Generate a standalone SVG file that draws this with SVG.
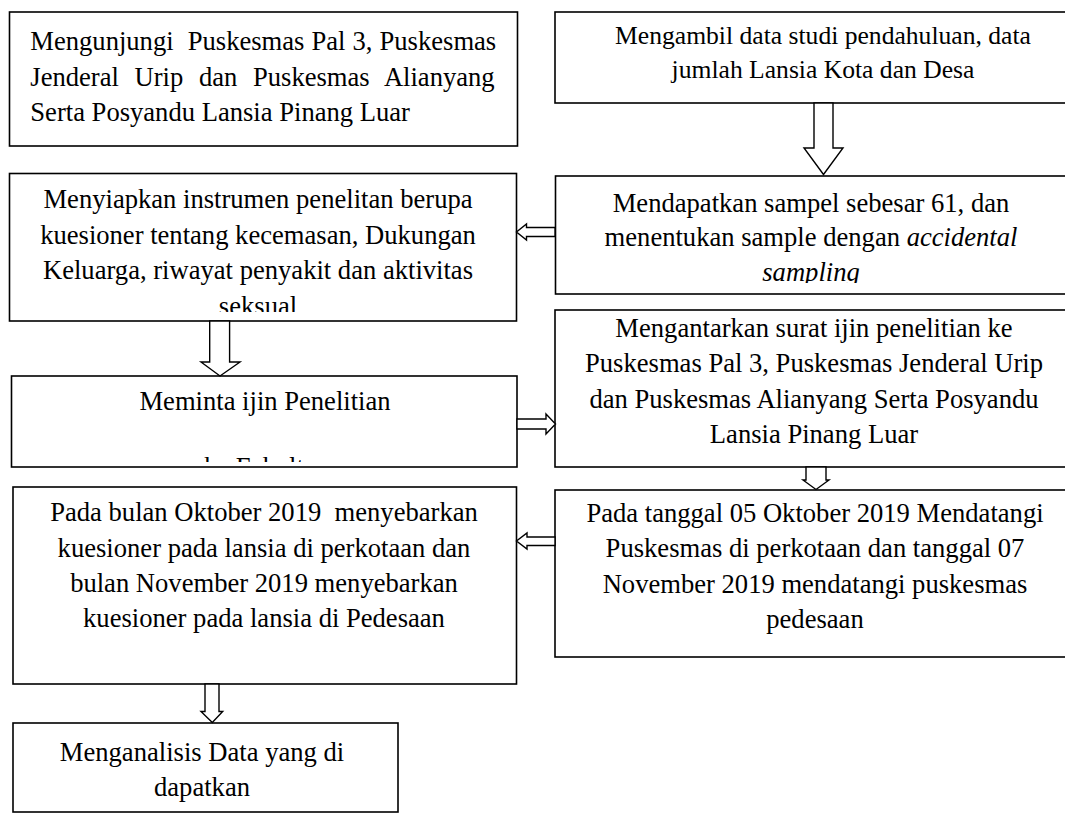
<svg xmlns="http://www.w3.org/2000/svg" width="1065" height="816" viewBox="0 0 1065 816">
<style>
.box{fill:#fff;stroke:#000;stroke-width:1.6}
.t{font-family:"Liberation Serif","Times New Roman",serif;font-size:26.6px;fill:#000}
.s{font-size:25.6px}
.c{text-anchor:middle}
.arr{fill:#fff;stroke:#000;stroke-width:1.4;stroke-linejoin:miter}
</style>
<defs>
<clipPath id="clip3"><rect x="556" y="177" width="520" height="106"/></clipPath>
<clipPath id="clip4"><rect x="10" y="174" width="506" height="138"/></clipPath>
<clipPath id="clip5"><rect x="12" y="377" width="504" height="85"/></clipPath>
</defs>
<rect width="1065" height="816" fill="#fff"/>

<g id="node1">
<rect class="box" x="9.5" y="12" width="508" height="134"/>
<text class="t" x="30.3" y="50" style="white-space:pre" xml:space="preserve" word-spacing="0.4">Mengunjungi  Puskesmas Pal 3, Puskesmas</text>
<text class="t" x="30.3" y="86" word-spacing="9">Jenderal Urip dan Puskesmas Alianyang</text>
<text class="t" x="30.3" y="121">Serta Posyandu Lansia Pinang Luar</text>
</g>

<g id="node2">
<rect class="box" x="555" y="12" width="515" height="91"/>
<text class="t s c" x="823" y="44">Mengambil data studi pendahuluan, data</text>
<text class="t s c" x="823" y="78">jumlah Lansia Kota dan Desa</text>
</g>

<g id="node3">
<rect class="box" x="555.5" y="176" width="515" height="118"/>
<g clip-path="url(#clip3)">
<text class="t c" x="811" y="212">Mendapatkan sampel sebesar 61, dan</text>
<text class="t c" x="811" y="246">menentukan sample dengan <tspan font-style="italic">accidental</tspan></text>
<text class="t c" x="811" y="281" font-style="italic">sampling</text>
</g>
</g>

<g id="node4">
<rect class="box" x="9.5" y="173.5" width="507" height="147.5"/>
<g clip-path="url(#clip4)">
<text class="t c" x="258" y="208">Menyiapkan instrumen penelitan berupa</text>
<text class="t c" x="258" y="243.5">kuesioner tentang kecemasan, Dukungan</text>
<text class="t c" x="258" y="279">Keluarga, riwayat penyakit dan aktivitas</text>
<text class="t c" x="258" y="314.5">seksual</text>
</g>
</g>

<g id="node5">
<rect class="box" x="11.5" y="376" width="505.5" height="91"/>
<g clip-path="url(#clip5)">
<text class="t c" x="265" y="410">Meminta ijin Penelitian</text>
<text class="t c" x="265" y="476">ke Fakultas</text>
</g>
</g>

<g id="node6">
<rect class="box" x="555" y="310" width="515" height="157"/>
<text class="t c" x="814" y="337">Mengantarkan surat ijin penelitian ke</text>
<text class="t c" x="814" y="372">Puskesmas Pal 3, Puskesmas Jenderal Urip</text>
<text class="t c" x="814" y="408">dan Puskesmas Alianyang Serta Posyandu</text>
<text class="t c" x="814" y="443">Lansia Pinang Luar</text>
</g>

<g id="node7">
<rect class="box" x="555" y="490" width="515" height="167"/>
<text class="t c" x="815" y="522">Pada tanggal 05 Oktober 2019 Mendatangi</text>
<text class="t c" x="815" y="557">Puskesmas di perkotaan dan tanggal 07</text>
<text class="t c" x="815" y="593">November 2019 mendatangi puskesmas</text>
<text class="t c" x="815" y="628">pedesaan</text>
</g>

<g id="node8">
<rect class="box" x="13" y="487" width="503.5" height="197"/>
<text class="t c" x="264" y="521" style="white-space:pre" xml:space="preserve">Pada bulan Oktober 2019  menyebarkan</text>
<text class="t c" x="264" y="557">kuesioner pada lansia di perkotaan dan</text>
<text class="t c" x="264" y="592">bulan November 2019 menyebarkan</text>
<text class="t c" x="264" y="627">kuesioner pada lansia di Pedesaan</text>
</g>

<g id="node9">
<rect class="box" x="13" y="723" width="385" height="89"/>
<text class="t c" x="202" y="761">Menganalisis Data yang di</text>
<text class="t c" x="202" y="796">dapatkan</text>
</g>

<g id="connectors">
<polygon class="arr" points="814,103 814,148 804,148 823.5,174.5 843,148 833,148 833,103"/>
<polygon class="arr" points="555,227.5 526.5,227.5 526.5,224 516.5,232 526.5,240 526.5,236.5 555,236.5"/>
<polygon class="arr" points="209.7,321 209.7,362 201,362 220,376 240,362 229.6,362 229.6,321"/>
<polygon class="arr" points="517,419 546,419 546,414 555.5,424 546,434 546,429 517,429"/>
<polygon class="arr" points="806,467 806,480 803,480 816,489.5 829,480 826,480 826,467"/>
<polygon class="arr" points="555,537 527,537 527,533 516.5,541 527,549 527,545.5 555,545.5"/>
<polygon class="arr" points="205,684 205,711.5 201,711.5 212.3,722.5 222.7,711.5 219,711.5 219,684"/>
</g>
</svg>
